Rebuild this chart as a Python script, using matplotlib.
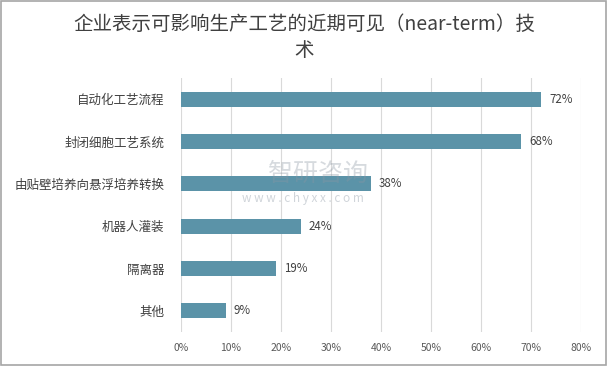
import matplotlib
matplotlib.use("Agg")
import matplotlib.pyplot as plt
from matplotlib.ticker import FuncFormatter

plt.rcParams['font.family'] = ['Noto Sans CJK SC', 'DejaVu Sans']

categories = ["自动化工艺流程", "封闭细胞工艺系统", "由贴壁培养向悬浮培养转换", "机器人灌装", "隔离器", "其他"]
values = [72, 68, 38, 24, 19, 9]
xticks = [0, 10, 20, 30, 40, 50, 60, 70, 80]
title_lines = ["企业表示可影响生产工艺的近期可见（near-term）技", "术"]

fig = plt.figure(figsize=(6.08, 3.66), dpi=100)
ax = fig.add_axes([181/608, 34/366, 400/608, 254/366])

ypos = list(range(len(categories)))[::-1]
ax.barh(ypos, values, height=0.355, color="#5B93A8", zorder=3)
for y, v in zip(ypos, values):
    ax.text(v + 1.6, y, f"{v}%", va="center", ha="left", fontsize=8.3, color="#404040", zorder=4)

ax.set_xlim(0, 80)
ax.set_ylim(-0.5, len(categories) - 0.5)
ax.set_xticks(xticks)
ax.xaxis.set_major_formatter(FuncFormatter(lambda x, p: f"{int(x)}%"))
ax.set_yticks(ypos)
ax.set_yticklabels(categories, fontsize=9, color="#404040")
ax.tick_params(axis='y', length=0, pad=12)
ax.tick_params(axis='x', length=0, pad=8, labelsize=7.5, labelcolor="#595959")
ax.grid(axis='x', color="#D9D9D9", linewidth=0.8, zorder=0)
for s in ax.spines.values():
    s.set_visible(False)

fig.text(304/608, 1 - 24/366, title_lines[0], ha="center", va="center", fontsize=14,
         fontweight="medium", color="#404040")
fig.text(304/608, 1 - 51/366, title_lines[1], ha="center", va="center", fontsize=14,
         fontweight="medium", color="#404040")

# watermark
fig.text(318/608, 1 - 174/366, "智研咨询", ha="center", va="center", fontsize=18, color="#8A96A3", alpha=0.35, zorder=10)
fig.text(303/608, 1 - 198/366, "w w w . c h y x x . c o m", ha="center", va="center", fontsize=8.5, color="#8A96A3", alpha=0.4, zorder=10)

# border
fig.patches.append(plt.Rectangle((0.002, 0.003), 0.995, 0.994, transform=fig.transFigure,
                                 fill=False, edgecolor="#A6A6A6", linewidth=1.2))

fig.savefig("out.png", dpi=100, facecolor="white")
